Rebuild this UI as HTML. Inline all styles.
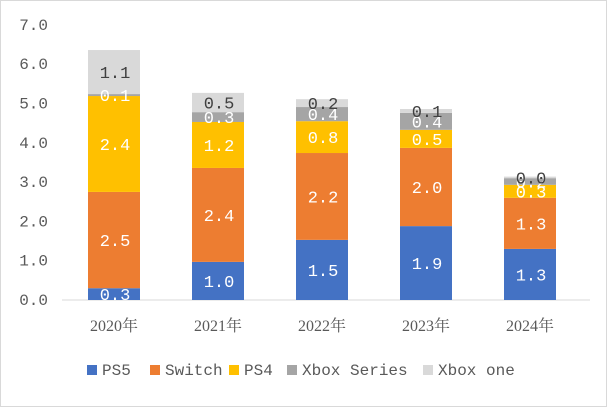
<!DOCTYPE html>
<html><head><meta charset="utf-8"><style>
body{margin:0;background:#fff}
svg{display:block}
text{font-family:"Liberation Mono","Noto Serif CJK SC",monospace}
.yr{font-family:"Liberation Serif","Noto Serif CJK SC",serif}
</style></head><body>
<svg id="chart" width="607" height="407">
<rect x="0.5" y="0.5" width="606" height="406" fill="#fff" stroke="#d9d9d9"/>
<g id="grid"></g><g id="bars"></g><g id="labels"></g><g id="legend"></g>
</svg>
<script>
const years=["2020年","2021年","2022年","2023年","2024年"];
const seriesNames=["PS5","Switch","PS4","Xbox Series","Xbox one"];
const ps5=[0.3,0.97,1.53,1.88,1.3];
const sw=[2.45,2.39,2.21,1.99,1.3];
const ps4=[2.44,1.17,0.81,0.46,0.33];
const xs=[0.05,0.25,0.36,0.43,0.17];
const xone=[1.12,0.49,0.2,0.1,0.04];
const yTicks=[0,1,2,3,4,5,6,7];
const series=[ps5,sw,ps4,xs,xone];
const colors=["#4472C4","#ED7D31","#FFC000","#A5A5A5","#D9D9D9"];
const labelColors=["#fff","#fff","#fff","#fff","#404040"];
const NS="http://www.w3.org/2000/svg";
const y0=300,unit=39.3,xL=62,xR=590;
const y=v=>y0-v*unit;
const xc=i=>114+i*104;
function mk(tag,attrs,parent){const e=document.createElementNS(NS,tag);for(const k in attrs)e.setAttribute(k,attrs[k]);parent.appendChild(e);return e;}
const grid=document.getElementById('grid'),bars=document.getElementById('bars'),labels=document.getElementById('labels'),legend=document.getElementById('legend');
yTicks.forEach(t=>{const tx=mk('text',{x:48,y:y(t)+5,'text-anchor':'end','font-size':16,fill:'#595959'},grid);tx.textContent=t.toFixed(1);

});
const ax=mk('line',{x1:xL,x2:xR,y1:y0,y2:y0,stroke:'#d9d9d9','stroke-width':1},grid);


years.forEach((yr,i)=>{
 let cum=0;
 series.forEach((s,j)=>{
  const v=s[i];
  const r=mk('rect',{x:xc(i)-26,y:y(cum+v),width:52,height:v*unit,fill:colors[j]},bars);
  
  
  const t=mk('text',{x:xc(i)+1,y:y(cum+v/2)+6,'text-anchor':'middle','font-size':17,fill:labelColors[j]},labels);
  t.textContent=v.toFixed(1);
  
  
  cum+=v;
 });
 const t=mk('text',{x:xc(i),y:331,'text-anchor':'middle','font-size':16,fill:'#595959','class':'yr'},grid);
 t.textContent=yr;
 
 
});
const lx=[87,150,229,287,423];
seriesNames.forEach((n,j)=>{
 const g=mk('g',{},legend);
 
 
 mk('rect',{x:lx[j],y:365,width:10,height:10,fill:colors[j]},g);
 const t=mk('text',{x:lx[j]+15,y:375,'font-size':16,fill:'#595959'},g);
 t.textContent=n;
});
</script>
</body></html>
